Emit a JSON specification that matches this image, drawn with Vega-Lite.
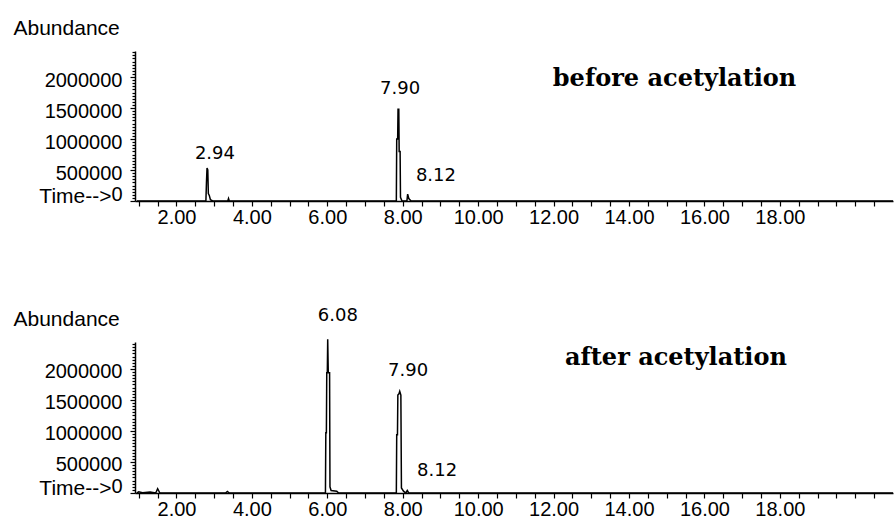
{
  "$schema": "https://vega.github.io/schema/vega-lite/v6.json",
  "background": "white",
  "padding": {"left": 13, "top": 17, "right": 0, "bottom": 5},
  "datasets": {
    "before": [
      {"t": 0.95, "a": 0}, {"t": 2.78, "a": 0}, {"t": 2.795, "a": 300000}, {"t": 2.81, "a": 530000},
      {"t": 2.83, "a": 500000}, {"t": 2.845, "a": 120000}, {"t": 2.87, "a": 90000}, {"t": 2.9, "a": 20000},
      {"t": 2.96, "a": 0}, {"t": 3.36, "a": 0}, {"t": 3.38, "a": 40000}, {"t": 3.4, "a": 0},
      {"t": 7.83, "a": 0}, {"t": 7.84, "a": 1000000}, {"t": 7.865, "a": 1000000}, {"t": 7.875, "a": 1480000},
      {"t": 7.895, "a": 1480000}, {"t": 7.905, "a": 800000}, {"t": 7.93, "a": 800000}, {"t": 7.94, "a": 60000},
      {"t": 7.98, "a": 0}, {"t": 8.11, "a": 0}, {"t": 8.13, "a": 110000}, {"t": 8.16, "a": 40000},
      {"t": 8.22, "a": 0}, {"t": 21, "a": 0}
    ],
    "after": [
      {"t": 0.95, "a": 0}, {"t": 1.0, "a": 20000}, {"t": 1.1, "a": 5000}, {"t": 1.3, "a": 15000},
      {"t": 1.45, "a": 0}, {"t": 1.5, "a": 70000}, {"t": 1.56, "a": 0}, {"t": 3.3, "a": 0},
      {"t": 3.35, "a": 25000}, {"t": 3.4, "a": 0}, {"t": 5.95, "a": 0}, {"t": 5.96, "a": 970000},
      {"t": 5.975, "a": 970000}, {"t": 5.985, "a": 1940000}, {"t": 6.0, "a": 1940000}, {"t": 6.01, "a": 2480000},
      {"t": 6.025, "a": 1940000}, {"t": 6.06, "a": 1940000}, {"t": 6.07, "a": 100000}, {"t": 6.1, "a": 40000},
      {"t": 6.25, "a": 30000}, {"t": 6.3, "a": 0}, {"t": 7.83, "a": 0}, {"t": 7.84, "a": 940000},
      {"t": 7.86, "a": 940000}, {"t": 7.87, "a": 1580000}, {"t": 7.9, "a": 1600000}, {"t": 7.92, "a": 1640000},
      {"t": 7.95, "a": 1580000}, {"t": 7.965, "a": 80000}, {"t": 8.02, "a": 30000}, {"t": 8.08, "a": 0},
      {"t": 8.12, "a": 40000}, {"t": 8.16, "a": 0}, {"t": 21, "a": 0}
    ],
    "pk_before": [
      {"t": 3.02, "a": 760000, "label": "2.94"},
      {"t": 7.93, "a": 1810000, "label": "7.90"},
      {"t": 8.88, "a": 400000, "label": "8.12"}
    ],
    "pk_after": [
      {"t": 6.28, "a": 2850000, "label": "6.08"},
      {"t": 8.14, "a": 1970000, "label": "7.90"},
      {"t": 8.91, "a": 350000, "label": "8.12"}
    ],
    "ann_before": [{"t": 11.98, "a": 1970000, "label": "before acetylation"}],
    "ann_after": [{"t": 12.3, "a": 2180000, "label": "after acetylation"}]
  },
  "vconcat": [
    {
      "width": 758,
      "height": 150,
      "layer": [
        {
          "data": {"name": "before"},
          "mark": {"type": "line", "color": "black", "strokeWidth": 1.5, "clip": false},
          "encoding": {
            "x": {
              "field": "t", "type": "quantitative",
              "scale": {"domain": [0.9, 21], "nice": false, "zero": false},
              "axis": {
                "values": [1,1.5,2,2.5,3,3.5,4,4.5,5,5.5,6,6.5,7,7.5,8,8.5,9,9.5,10,10.5,11,11.5,12,12.5,13,13.5,14,14.5,15,15.5,16,16.5,17,17.5,18,18.5,19,19.5,20,20.5],
                "tickCount": 200,
                "labelExpr": "(datum.value % 2 == 0 && datum.value <= 18) ? format(datum.value, '.2f') : ''",
                "title": "Time-->",
                "titleX": -24, "titleY": -5, "titleAlign": "right", "titleBaseline": "middle"
              }
            },
            "y": {
              "field": "a", "type": "quantitative",
              "scale": {"domain": [0, 2420000], "nice": false},
              "axis": {
                "values": [0,50000,100000,150000,200000,250000,300000,350000,400000,450000,500000,550000,600000,650000,700000,750000,800000,850000,900000,950000,1000000,1050000,1100000,1150000,1200000,1250000,1300000,1350000,1400000,1450000,1500000,1550000,1600000,1650000,1700000,1750000,1800000,1850000,1900000,1950000,2000000,2050000,2100000,2150000,2200000,2250000,2300000,2350000,2400000],
                "tickCount": 200,
                "labelExpr": "(datum.value % 500000 == 0 && datum.value <= 2000000) ? '' + datum.value : ''",
                "title": "Abundance",
                "titleAngle": 0, "titleX": -122, "titleY": -23, "titleAlign": "left", "titleBaseline": "middle"
              }
            }
          }
        },
        {
          "data": {"name": "pk_before"},
          "mark": {"type": "text", "font": "DejaVu Sans", "fontSize": 18, "color": "black", "clip": false},
          "encoding": {
            "x": {"field": "t", "type": "quantitative"},
            "y": {"field": "a", "type": "quantitative"},
            "text": {"field": "label"}
          }
        },
        {
          "data": {"name": "ann_before"},
          "mark": {"type": "text", "font": "DejaVu Serif", "fontWeight": "bold", "fontSize": 24, "align": "left", "color": "black", "clip": false},
          "encoding": {
            "x": {"field": "t", "type": "quantitative"},
            "y": {"field": "a", "type": "quantitative"},
            "text": {"field": "label"}
          }
        }
      ]
    },
    {
      "width": 758,
      "height": 151,
      "layer": [
        {
          "data": {"name": "after"},
          "mark": {"type": "line", "color": "black", "strokeWidth": 1.5, "clip": false},
          "encoding": {
            "x": {
              "field": "t", "type": "quantitative",
              "scale": {"domain": [0.9, 21], "nice": false, "zero": false},
              "axis": {
                "values": [1,1.5,2,2.5,3,3.5,4,4.5,5,5.5,6,6.5,7,7.5,8,8.5,9,9.5,10,10.5,11,11.5,12,12.5,13,13.5,14,14.5,15,15.5,16,16.5,17,17.5,18,18.5,19,19.5,20,20.5],
                "tickCount": 200,
                "labelExpr": "(datum.value % 2 == 0 && datum.value <= 18) ? format(datum.value, '.2f') : ''",
                "title": "Time-->",
                "titleX": -24, "titleY": -5, "titleAlign": "right", "titleBaseline": "middle"
              }
            },
            "y": {
              "field": "a", "type": "quantitative",
              "scale": {"domain": [0, 2435000], "nice": false},
              "axis": {
                "values": [0,50000,100000,150000,200000,250000,300000,350000,400000,450000,500000,550000,600000,650000,700000,750000,800000,850000,900000,950000,1000000,1050000,1100000,1150000,1200000,1250000,1300000,1350000,1400000,1450000,1500000,1550000,1600000,1650000,1700000,1750000,1800000,1850000,1900000,1950000,2000000,2050000,2100000,2150000,2200000,2250000,2300000,2350000,2400000],
                "tickCount": 200,
                "labelExpr": "(datum.value % 500000 == 0 && datum.value <= 2000000) ? '' + datum.value : ''",
                "title": "Abundance",
                "titleAngle": 0, "titleX": -122, "titleY": -23, "titleAlign": "left", "titleBaseline": "middle"
              }
            }
          }
        },
        {
          "data": {"name": "pk_after"},
          "mark": {"type": "text", "font": "DejaVu Sans", "fontSize": 18, "color": "black", "clip": false},
          "encoding": {
            "x": {"field": "t", "type": "quantitative"},
            "y": {"field": "a", "type": "quantitative"},
            "text": {"field": "label"}
          }
        },
        {
          "data": {"name": "ann_after"},
          "mark": {"type": "text", "font": "DejaVu Serif", "fontWeight": "bold", "fontSize": 24, "align": "left", "color": "black", "clip": false},
          "encoding": {
            "x": {"field": "t", "type": "quantitative"},
            "y": {"field": "a", "type": "quantitative"},
            "text": {"field": "label"}
          }
        }
      ]
    }
  ],
  "spacing": 141,
  "bounds": "flush",
  "config": {
    "view": {"stroke": null},
    "font": "Liberation Sans",
    "axis": {
      "grid": false,
      "domainColor": "black",
      "domainWidth": 1.5,
      "tickColor": "black",
      "tickWidth": 1.2,
      "labelColor": "black",
      "labelFont": "Liberation Sans",
      "labelFontSize": 20,
      "titleColor": "black",
      "titleFont": "Liberation Sans",
      "titleFontSize": 21,
      "titleFontWeight": "normal",
      "labelOverlap": false,
      "labelFlush": false
    },
    "axisX": {"tickSize": 5, "labelPadding": 1},
    "axisY": {
      "tickSize": {"condition": {"test": "datum.value % 500000 == 0", "value": 5}, "value": 3},
      "labelOffset": {"condition": {"test": "datum.value == 0", "value": -7}, "value": 3},
      "labelPadding": 8
    }
  }
}
